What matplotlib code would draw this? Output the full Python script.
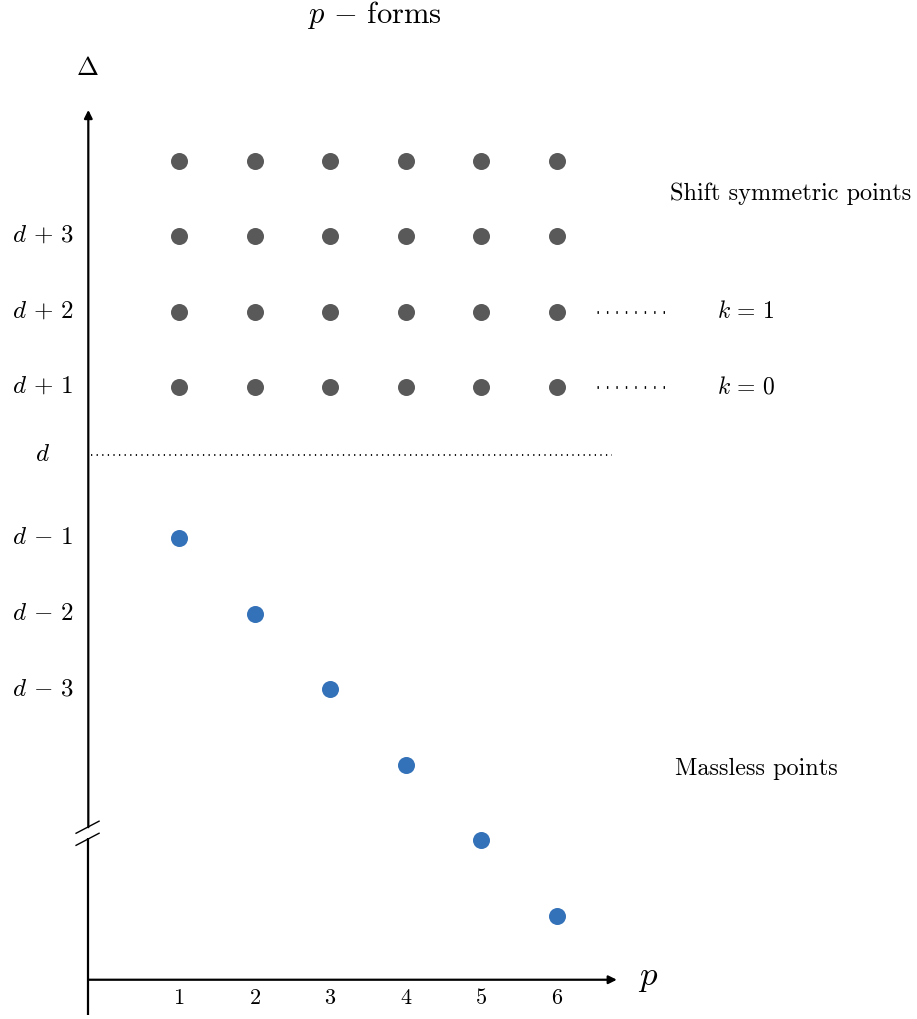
import matplotlib
matplotlib.use("Agg")
import matplotlib.pyplot as plt

plt.rcParams['mathtext.fontset'] = 'cm'
plt.rcParams['font.family'] = 'serif'
plt.rcParams['font.serif'] = ['cmr10', 'DejaVu Serif']
plt.rcParams['axes.unicode_minus'] = False

# data
p_values = [1, 2, 3, 4, 5, 6]
shift_levels = [1, 2, 3, 4]          # Delta - d for shift symmetric points
massless_levels = [-1, -2, -3, -4, -5, -6]  # Delta - d for massless points (one per p)
ytick_pos = [3, 2, 1, 0.1, -1, -2, -3]
ytick_labels = [r'$d\,+\,3$', r'$d\,+\,2$', r'$d\,+\,1$', r'$d$',
                r'$d\,-\,1$', r'$d\,-\,2$', r'$d\,-\,3$']
k_levels = [2, 1]
k_labels = [r'$k\,=\,1$', r'$k\,=\,0$']

gray = '#595959'
blue = '#3371b8'

fig = plt.figure(figsize=(9.17, 10.19), dpi=100)
ax = fig.add_axes([0, 0, 1, 1])
ax.set_xlim(-1.368, 10.76)
ax.set_ylim(-7.37, 6.126)
ax.axis('off')

# points
for lev in shift_levels:
    ax.scatter(p_values, [lev] * len(p_values), s=150, color=gray, zorder=3, linewidths=0)
ax.scatter(p_values, massless_levels, s=150, color=blue, zorder=3, linewidths=0)

# axes
x0, y0 = -0.2, -6.85
arr = dict(arrowstyle='-|>', lw=1.6, color='black', mutation_scale=12, shrinkA=0, shrinkB=0)
ax.annotate('', xy=(x0, 4.67), xytext=(x0, -4.83), arrowprops=arr)
ax.plot([x0, x0], [-7.32, -4.97], color='black', lw=1.6, solid_capstyle='butt')
ax.annotate('', xy=(6.79, y0), xytext=(x0, y0), arrowprops=arr)

# axis break marks
ax.plot([-0.362, -0.058], [-4.91, -4.75], color='black', lw=1.0)
ax.plot([-0.362, -0.058], [-5.07, -4.91], color='black', lw=1.0)

# y tick labels
for pos, lab in zip(ytick_pos, ytick_labels):
    ax.text(-0.8, pos, lab, ha='center', va='center', fontsize=18)

# x tick labels
for p in p_values:
    ax.text(p, -7.09, r'$%d$' % p, ha='center', va='center', fontsize=16)

# d line
ax.plot([-0.16, 6.73], [0.1, 0.1], color='black', lw=1.3, linestyle=(0, (0.7, 2.4)))

# k lines
for lev, lab in zip(k_levels, k_labels):
    ax.plot([6.53, 7.52], [lev, lev], color='black', lw=2.0, linestyle=(0, (0.5, 2.9)))
    ax.text(8.5, lev, lab, ha='center', va='center', fontsize=17)

ax.text(7.49, 3.56, 'Shift symmetric points', ha='left', va='center', fontsize=17.5)
ax.text(7.56, -4.06, 'Massless points', ha='left', va='center', fontsize=17.5)

ax.text(3.59, 5.93, r'$p\,-\,\mathrm{forms}$', ha='center', va='center', fontsize=22)
ax.text(-0.217, 5.23, r'$\Delta$', ha='center', va='center', fontsize=19)
ax.text(7.2, -6.83, r'$p$', ha='center', va='center', fontsize=25)

fig.savefig('out.png', dpi=100)
